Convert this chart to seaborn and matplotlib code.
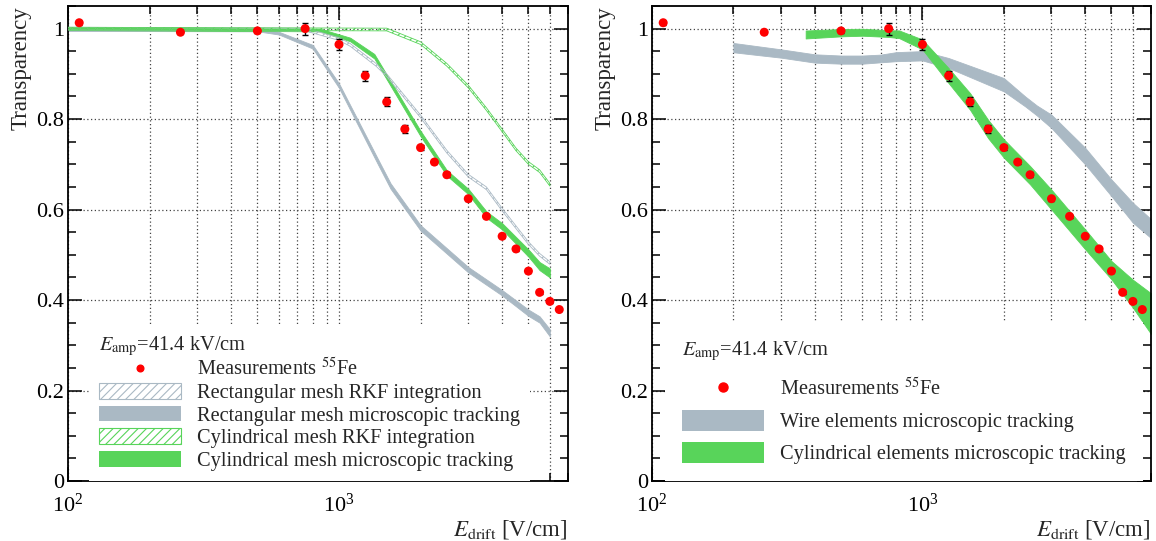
import numpy as np
import matplotlib
matplotlib.use("Agg")
import matplotlib.pyplot as plt
import seaborn as sns
from matplotlib.ticker import LogLocator, NullFormatter, MultipleLocator, FuncFormatter
from matplotlib.patches import Patch
from matplotlib.lines import Line2D

# ---------------- data ----------------
meas_x = [110, 260, 500, 750, 1000, 1250, 1500, 1750, 2000, 2250, 2500, 3000,
          3500, 4000, 4500, 5000, 5500, 6000, 6500]
meas_y = [1.013, 0.992, 0.995, 1.000, 0.965, 0.896, 0.838, 0.778, 0.737, 0.705,
          0.677, 0.624, 0.585, 0.541, 0.513, 0.464, 0.417, 0.397, 0.379]
meas_err = [0.004, 0.004, 0.004, 0.013, 0.012, 0.011, 0.010, 0.008, 0.006, 0.005,
            0.005, 0.004, 0.004, 0.004, 0.004, 0.004, 0.004, 0.004, 0.004]

# left panel simulations
rect_rkf_x = [100, 750, 1000, 1100, 1370, 1500, 2000, 2500, 3000, 3500, 4000, 5000, 5500, 6000]
rect_rkf_y = [1.0, 0.998, 0.977, 0.964, 0.920, 0.897, 0.806, 0.728, 0.675, 0.647, 0.600, 0.526, 0.500, 0.482]
rect_rkf_hw = [0.003] * 14

rect_micro_x = [100, 500, 600, 800, 1000, 1400, 1550, 2000, 3000, 4000, 5000, 5500, 6000]
rect_micro_y = [0.998, 0.997, 0.990, 0.960, 0.874, 0.703, 0.652, 0.5595, 0.467, 0.416, 0.372, 0.357, 0.3275]
rect_micro_hw = [0.003, 0.003, 0.003, 0.004, 0.005, 0.006, 0.006, 0.006, 0.006, 0.006, 0.007, 0.007, 0.008]

cyl_rkf_x = [100, 1500, 2000, 2500, 3000, 3500, 4000, 4500, 5000, 5500, 6000]
cyl_rkf_y = [1.0, 0.998, 0.968, 0.920, 0.872, 0.822, 0.775, 0.733, 0.703, 0.685, 0.655]
cyl_rkf_hw = [0.003] * 11

cyl_micro_x = [100, 850, 1100, 1350, 2000, 2500, 3000, 3500, 4000, 5000, 5500, 6000]
cyl_micro_y = [1.0, 0.997, 0.976, 0.939, 0.768, 0.681, 0.640, 0.589, 0.563, 0.504, 0.475, 0.460]
cyl_micro_hw = [0.003, 0.003, 0.004, 0.005, 0.006, 0.006, 0.006, 0.007, 0.007, 0.008, 0.009, 0.010]

# right panel simulations
wire_x = [200, 300, 400, 500, 600, 700, 800, 1000, 1250, 2000, 2400, 2650, 3000, 4000, 5000, 6000, 7000]
wire_y = [0.958, 0.945, 0.934, 0.9315, 0.9315, 0.934, 0.938, 0.940, 0.924, 0.876, 0.839, 0.819,
          0.795, 0.718, 0.648, 0.593, 0.558]
wire_hw = [0.0103, 0.0092, 0.0092, 0.009, 0.009, 0.0085, 0.010, 0.0103, 0.011, 0.0147, 0.011, 0.011,
           0.0147, 0.0184, 0.0184, 0.022, 0.021]

cylel_x = [370, 500, 600, 750, 820, 1000, 1250, 1500, 1750, 2000, 2500, 3000, 4000, 5000, 6000, 7000]
cylel_y = [0.987, 0.991, 0.992, 0.989, 0.9875, 0.965, 0.896, 0.839, 0.778, 0.735, 0.676, 0.622,
           0.534, 0.466, 0.414, 0.370]
cylel_hw = [0.0088, 0.0081, 0.0077, 0.0074, 0.0085, 0.011, 0.0166, 0.0184, 0.0203, 0.0203, 0.0203,
            0.022, 0.022, 0.0203, 0.031, 0.045]

left_labels = [r"Measurements $^{55}$Fe", "Rectangular mesh RKF integration",
               "Rectangular mesh microscopic tracking", "Cylindrical mesh RKF integration",
               "Cylindrical mesh microscopic tracking"]
right_labels = [r"Measurements $^{55}$Fe", "Wire elements microscopic tracking",
                "Cylindrical elements microscopic tracking"]
eamp_text = r"$E_{\mathrm{amp}}$=41.4 kV/cm"
xlabel_text = r"$E_{\mathrm{drift}}$ [V/cm]"
ylabel_text = "Transparency"

GRAY = "#aab9c4"
GREEN = "#58d45a"
RED = "#ff0000"
LEGFS = 14.7

# ---------------- style ----------------
sns.set_theme(style="ticks")
plt.rcParams["font.family"] = ["Liberation Serif", "DejaVu Serif"]
plt.rcParams["mathtext.fontset"] = "stix"
plt.rcParams["hatch.linewidth"] = 0.8

fig = plt.figure(figsize=(11.56, 5.41), dpi=100)
axL = fig.add_axes([68 / 1156, 1 - 481 / 541, 500 / 1156, 475 / 541])
axR = fig.add_axes([652 / 1156, 1 - 481 / 541, 499 / 1156, 475 / 541])


def style_axes(ax):
    ax.set_xscale("log")
    ax.set_xlim(100, 7000)
    ax.set_ylim(0, 1.05)
    ax.xaxis.set_major_locator(LogLocator(base=10, numticks=10))
    ax.xaxis.set_minor_locator(LogLocator(base=10, subs=np.arange(2, 10), numticks=30))
    ax.xaxis.set_minor_formatter(NullFormatter())
    ax.yaxis.set_major_locator(MultipleLocator(0.2))
    ax.yaxis.set_minor_locator(MultipleLocator(0.05))
    ax.yaxis.set_major_formatter(FuncFormatter(lambda v, p: f"{v:g}"))
    ax.tick_params(which="both", direction="in", top=True, right=True, width=1.1,
                   colors="black", labelcolor="black")
    ax.tick_params(which="major", length=10, labelsize=16)
    ax.tick_params(which="minor", length=5.8)
    ax.tick_params(axis="x", which="major", pad=9)
    ax.tick_params(axis="y", which="major", pad=3)
    ax.grid(True, axis="x", which="both", ls=(0, (1, 2)), color="#444444", lw=0.9)
    ax.grid(True, axis="y", which="major", ls=(0, (1, 2)), color="#444444", lw=0.9)
    ax.set_axisbelow(True)
    for s in ax.spines.values():
        s.set_linewidth(1.3)
        s.set_color("black")
    ax.set_xlabel(xlabel_text, loc="right", fontsize=16.5, labelpad=1)
    ax.set_ylabel(ylabel_text, loc="top", fontsize=16.5, labelpad=3)


def band(ax, x, y, hw, color, hatch=None, z=2):
    x = np.asarray(x, float)
    y = np.asarray(y, float)
    hw = np.asarray(hw, float)
    if hatch is None:
        ax.fill_between(x, y - hw, y + hw, facecolor=color, edgecolor=color, lw=0.6, zorder=z)
    else:
        ax.fill_between(x, y - hw, y + hw, facecolor="none", edgecolor=color, hatch=hatch,
                        lw=0.6, zorder=z)


def measurements(ax):
    ax.errorbar(meas_x, meas_y, yerr=meas_err, fmt="none", ecolor="black", elinewidth=1,
                capsize=2, capthick=1, zorder=4)
    sns.scatterplot(x=meas_x, y=meas_y, ax=ax, color=RED, s=42, edgecolor="none", zorder=5,
                    legend=False)


for ax in (axL, axR):
    style_axes(ax)

# left panel
band(axL, rect_micro_x, rect_micro_y, rect_micro_hw, GRAY, z=2)
band(axL, cyl_micro_x, cyl_micro_y, cyl_micro_hw, GREEN, z=2.5)
band(axL, rect_rkf_x, rect_rkf_y, rect_rkf_hw, GRAY, hatch="////", z=3)
band(axL, cyl_rkf_x, cyl_rkf_y, cyl_rkf_hw, GREEN, hatch="////", z=3)
measurements(axL)

hL = [Line2D([], [], ls="none", marker="o", color=RED, markersize=4.8),
      Patch(facecolor="white", edgecolor=GRAY, hatch="////", lw=0.8),
      Patch(facecolor=GRAY, edgecolor="none"),
      Patch(facecolor="white", edgecolor=GREEN, hatch="////", lw=0.8),
      Patch(facecolor=GREEN, edgecolor="none")]
legL = axL.legend(hL, left_labels, title=eamp_text, loc="lower left",
                  bbox_to_anchor=(0.042, 0.0), fontsize=LEGFS, title_fontsize=LEGFS,
                  frameon=True, fancybox=False, framealpha=1, edgecolor="none",
                  facecolor="white", handlelength=4.0, handleheight=0.8, labelspacing=0.13,
                  handletextpad=0.8, borderpad=0.5, borderaxespad=0, alignment="left")
legL.get_frame().set_linewidth(0)
legL._legend_box.sep = 0.0

# right panel
band(axR, wire_x, wire_y, wire_hw, GRAY, z=2)
band(axR, cylel_x, cylel_y, cylel_hw, GREEN, z=2.5)
measurements(axR)

hR = [Line2D([], [], ls="none", marker="o", color=RED, markersize=6.5),
      Patch(facecolor=GRAY, edgecolor="none"),
      Patch(facecolor=GREEN, edgecolor="none")]
legR = axR.legend(hR, right_labels, title=eamp_text, loc="lower left",
                  bbox_to_anchor=(0.027, 0.0), fontsize=LEGFS, title_fontsize=LEGFS,
                  frameon=True, fancybox=False, framealpha=1, edgecolor="none",
                  facecolor="white", handlelength=4.0, handleheight=1.24, labelspacing=0.45,
                  handletextpad=0.8, borderpad=0.82, borderaxespad=0, alignment="left")
legR.get_frame().set_linewidth(0)
legR._legend_box.sep = 10.8

fig.savefig("out.png", dpi=100)
